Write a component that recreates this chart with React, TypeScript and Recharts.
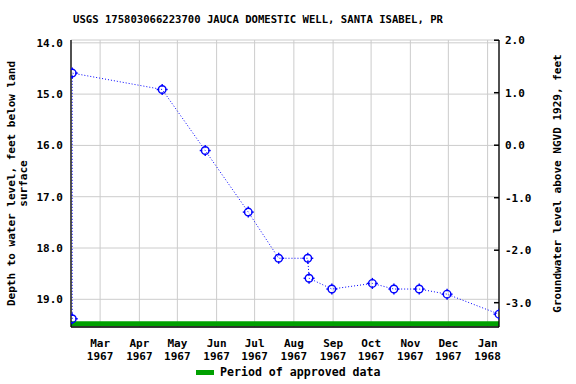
import {
  ComposedChart,
  Line,
  XAxis,
  YAxis,
  CartesianGrid,
  ReferenceLine,
  ReferenceArea,
  Label,
} from "recharts";

const FONT = "'DejaVu Sans Mono', monospace";

// measurement dates and depth below land surface (feet)
const dates = [
  "1967-02-07", "1967-02-07", "1967-04-19", "1967-05-23", "1967-06-26",
  "1967-07-20", "1967-08-12", "1967-08-13", "1967-08-31", "1967-10-02",
  "1967-10-19", "1967-11-08", "1967-11-30", "1968-01-10",
];
const depths = [
  19.38, 14.59, 14.91, 16.1, 17.3, 18.2, 18.2, 18.59, 18.8, 18.69, 18.8,
  18.8, 18.9, 19.29,
];

const monthTicks = [
  "1967-03-01", "1967-04-01", "1967-05-01", "1967-06-01", "1967-07-01",
  "1967-08-01", "1967-09-01", "1967-10-01", "1967-11-01", "1967-12-01",
  "1968-01-01",
];
const monthNames = ["Jan", "Feb", "Mar", "Apr", "May", "Jun", "Jul", "Aug", "Sep", "Oct", "Nov", "Dec"];

const depthTicks = [14, 15, 16, 17, 18, 19];
const elevTicks = [2, 1, 0, -1, -2, -3];

const xStart = "1967-02-06";
const xEnd = "1968-01-10";
const approvedLevel = -3.4;

const toDay = (s: string) => {
  const [y, m, d] = s.split("-").map(Number);
  return Date.UTC(y, m - 1, d) / 86400000;
};

const data = dates.map((d, i) => ({ t: toDay(d), depth: depths[i] }));

const MonthTick = (props: any) => {
  const { x, y, payload } = props;
  const dt = new Date(payload.value * 86400000);
  return (
    <text
      x={x}
      y={y}
      textAnchor="middle"
      fontFamily={FONT}
      fontWeight="bold"
      fontSize={11}
      fill="#000"
    >
      <tspan x={x} dy={12}>{monthNames[dt.getUTCMonth()]}</tspan>
      <tspan x={x} dy={13}>{dt.getUTCFullYear()}</tspan>
    </text>
  );
};

const Marker = (props: any) => {
  const { cx, cy } = props;
  if (cx == null || cy == null) return null;
  return (
    <g stroke="#0000ff" strokeWidth={1.4} fill="none">
      <circle cx={cx} cy={cy} r={3.8} />
      <line x1={cx} y1={cy - 5.5} x2={cx} y2={cy - 3} />
      <line x1={cx} y1={cy + 3} x2={cx} y2={cy + 5.5} />
      <line x1={cx - 5.5} y1={cy} x2={cx - 3} y2={cy} />
      <line x1={cx + 3} y1={cy} x2={cx + 5.5} y2={cy} />
    </g>
  );
};

const LeftLabel = (props: any) => {
  const { viewBox } = props;
  const cy = viewBox.y + viewBox.height / 2;
  return (
    <text
      transform={`translate(15, ${cy}) rotate(-90)`}
      textAnchor="middle"
      fontFamily={FONT}
      fontWeight="bold"
      fontSize={11}
      fill="#000"
    >
      <tspan x={0} dy={0}>Depth to water level, feet below land</tspan>
      <tspan x={0} dy={12}>surface</tspan>
    </text>
  );
};

const RightLabel = (props: any) => {
  const { viewBox } = props;
  const cy = viewBox.y + viewBox.height / 2;
  return (
    <text
      transform={`translate(561, ${cy}) rotate(-90)`}
      textAnchor="middle"
      fontFamily={FONT}
      fontWeight="bold"
      fontSize={11}
      fill="#000"
    >
      Groundwater level above NGVD 1929, feet
    </text>
  );
};

export default function App() {
  return (
    <div style={{ position: "absolute", left: 0, top: 0, width: 576, height: 384, background: "#fff" }}>
      <div
        style={{
          position: "absolute",
          top: 13,
          left: 73,
          fontFamily: FONT,
          fontWeight: "bold",
          fontSize: 10.6,
          whiteSpace: "pre",
        }}
      >
        USGS 175803066223700 JAUCA DOMESTIC WELL, SANTA ISABEL, PR
      </div>
      <ComposedChart
        width={576}
        height={384}
        data={data}
        margin={{ top: 40, right: 0, bottom: 17, left: 21 }}
      >
        <CartesianGrid yAxisId="left" stroke="#cccccc" strokeWidth={1} />
        <XAxis
          dataKey="t"
          type="number"
          domain={[toDay(xStart), toDay(xEnd)]}
          ticks={monthTicks.map(toDay)}
          tick={<MonthTick />}
          interval={0}
          tickLine={false}
          axisLine={{ stroke: "#000", strokeWidth: 1.3 }}
          height={40}
          allowDataOverflow
        />
        <YAxis
          yAxisId="left"
          reversed
          domain={[13.945, 19.54]}
          ticks={depthTicks}
          interval={0}
          tickFormatter={(v: number) => v.toFixed(1)}
          tick={{ fontFamily: FONT, fontWeight: "bold", fontSize: 11, fill: "#000" }}
          tickLine={false}
          axisLine={{ stroke: "#000", strokeWidth: 1.3 }}
          width={50}
          allowDataOverflow
        >
          <Label content={<LeftLabel />} />
        </YAxis>
        <YAxis
          yAxisId="right"
          orientation="right"
          domain={[-3.463, 2.004]}
          ticks={elevTicks}
          interval={0}
          tickFormatter={(v: number) => v.toFixed(1)}
          tick={{ fontFamily: FONT, fontWeight: "bold", fontSize: 11, fill: "#000", textAnchor: "start" }}
          tickLine={{ stroke: "#000", strokeWidth: 1.5 }}
          tickSize={-5}
          tickMargin={11}
          axisLine={{ stroke: "#000", strokeWidth: 1.3 }}
          width={77}
          allowDataOverflow
        >
          <Label content={<RightLabel />} />
        </YAxis>
        <ReferenceArea yAxisId="left" fill="none" stroke="#000" strokeWidth={1.3} />
        <ReferenceLine
          yAxisId="right"
          y={approvedLevel}
          stroke="#00a000"
          strokeWidth={5}
        />
        <Line
          yAxisId="left"
          dataKey="depth"
          type="linear"
          stroke="#0000ff"
          strokeWidth={1}
          strokeDasharray="1 2"
          dot={<Marker />}
          isAnimationActive={false}
        />
      </ComposedChart>
      <div
        style={{
          position: "absolute",
          top: 365,
          left: 196,
          display: "flex",
          alignItems: "center",
          fontFamily: FONT,
          fontWeight: "bold",
          fontSize: 11.6,
          whiteSpace: "pre",
        }}
      >
        <span style={{ display: "inline-block", width: 18, height: 5, background: "#00a000", marginRight: 6 }} />
        Period of approved data
      </div>
    </div>
  );
}
